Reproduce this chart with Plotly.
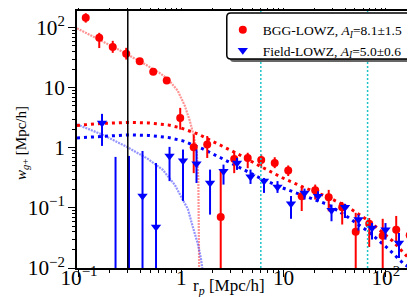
import plotly.graph_objects as go

# ---------------- data ----------------
rp_bgg = [0.1164, 0.1578, 0.2138, 0.2897, 0.3926, 0.5321, 0.7211, 0.977, 1.324, 1.795,
          2.432, 3.296, 4.467, 6.053, 8.204, 11.12, 15.07, 20.42, 27.67, 37.50,
          50.82, 68.87, 93.33, 126.5, 171.4]
w_bgg = [147, 68, 48, 36.9, 27.8, 18.5, 13.2, 3.16, 1.03, 1.135,
         0.071, 0.656, 0.68, 0.63, 0.56, 0.42, 0.157, 0.197, 0.151, 0.103,
         0.040, 0.0548, 0.0345, 0.0435, 0.035]
w_bgg_hi = [175, 82.5, 60.7, 46.4, 31.3, 20.7, 14.85, 4.64, 1.67, 1.58,
            0.447, 0.89, 0.83, 0.78, 0.70, 0.51, 0.23, 0.245, 0.20, 0.126,
            0.083, 0.068, 0.066, 0.0736, 0.053]
w_bgg_lo = [122, 46, 38.3, 29.6, 24.8, 16.5, 11.8, 2.02, 0.38, 0.68,
            0.001, 0.38, 0.46, 0.46, 0.46, 0.34, 0.089, 0.138, 0.088, 0.053,
            0.001, 0.0224, 0.001, 0.026, 0.0113]

rp_field = [0.168, 0.2277, 0.3085, 0.4181, 0.5667, 0.768, 1.0405, 1.410, 1.912, 2.590,
            3.510, 4.757, 6.446, 8.737, 11.84, 16.05, 21.75, 29.47, 39.94, 54.12,
            73.35, 99.40, 134.7, 182.5]
w_field = [2.61, 0.002, 0.002, 0.158, 0.048, 0.735, 0.61, 0.547, 0.261, 0.408,
           0.562, 0.33, 0.28, 0.224, 0.117, 0.178, 0.156, 0.0915, 0.103, 0.064,
           0.0464, 0.0435, 0.026, 0.0151]
w_field_hi = [3.69, 0.708, 0.735, 0.89, 0.56, 1.04, 0.94, 0.94, 0.435, 0.527,
              0.68, 0.435, 0.316, 0.28, 0.158, 0.21, 0.19, 0.114, 0.117, 0.0774,
              0.056, 0.056, 0.0383, 0.023]
w_field_lo = [1.08, 0.001, 0.001, 0.001, 0.001, 0.28, 0.131, 0.261, 0.0775, 0.245,
              0.43, 0.251, 0.178, 0.178, 0.066, 0.138, 0.129, 0.06, 0.068, 0.042,
              0.0297, 0.0297, 0.0147, 0.0107]

# large-scale model curves (thick dotted)
rp_model_bgg = [0.0956, 0.1715, 0.301, 0.472, 0.740, 0.991, 1.452, 1.82, 2.55, 3.57,
                5.60, 9.82, 15.4, 27.0, 42.4, 66.4, 116.5, 163.3, 195.5]
w_model_bgg = [2.37, 2.56, 2.66, 2.61, 2.42, 2.15, 1.71, 1.41, 1.04, 0.794,
               0.521, 0.316, 0.224, 0.1526, 0.104, 0.063, 0.0282, 0.01525, 0.01]
rp_model_field = [0.0956, 0.1919, 0.301, 0.472, 0.740, 1.037, 1.625, 2.55, 4.47, 6.26,
                  9.82, 15.4, 27.0, 42.4, 66.4, 104, 152.6, 174.6]
w_model_field = [1.468, 1.585, 1.647, 1.616, 1.496, 1.308, 0.962, 0.656, 0.398, 0.2985,
                 0.2154, 0.1648, 0.1144, 0.0708, 0.0414, 0.0215, 0.01135, 0.01]

# small-scale model curves (thin, pale)
rp_small_bgg = [0.0956, 0.1533, 0.2404, 0.403, 0.591, 0.740, 0.926, 1.084, 1.213, 1.327,
                1.420, 1.469, 1.486, 1.496]
w_small_bgg = [98.1, 65.6, 43.8, 27.1, 18.5, 14.1, 8.91, 5.01, 2.82, 1.585,
               0.825, 0.316, 0.1, 0.01]
rp_small_field = [0.0956, 0.1715, 0.301, 0.472, 0.661, 0.866, 1.037, 1.160, 1.298, 1.452,
                  1.554, 1.607]
w_small_field = [2.465, 1.647, 1.019, 0.656, 0.430, 0.2417, 0.136, 0.0962, 0.0483, 0.0251,
                 0.0147, 0.01]

vline_solid = [0.3]
vlines_cyan = [6.0, 66.4]

label_bgg = "BGG-LOWZ, <i>A</i><sub><i>I</i></sub>=8.1\u00b11.5"
label_field = "Field-LOWZ, <i>A</i><sub><i>I</i></sub>=5.0\u00b10.6"

SERIF = "Liberation Serif, Times New Roman, serif"

# plot-area geometry in pixels
W, H = 415, 297
L, R, T, B = 69, 3.5, 3, 37
PW, PH = W - L - R, H - T - B


def px_x(p):
    return (p - L) / PW


def px_y(p):
    return (T + PH - p) / PH


fig = go.Figure()

# small-scale model curves
fig.add_trace(go.Scatter(x=rp_small_bgg, y=w_small_bgg, mode="lines", showlegend=False,
                         line=dict(color="rgba(255,60,60,0.55)", width=2.2, dash="2px,1px")))
fig.add_trace(go.Scatter(x=rp_small_field, y=w_small_field, mode="lines", showlegend=False,
                         line=dict(color="rgba(60,60,255,0.55)", width=2.2, dash="2px,1px")))
# large-scale model curves
fig.add_trace(go.Scatter(x=rp_model_bgg, y=w_model_bgg, mode="lines", showlegend=False,
                         line=dict(color="#ff0000", width=3, dash="3px,4px")))
fig.add_trace(go.Scatter(x=rp_model_field, y=w_model_field, mode="lines", showlegend=False,
                         line=dict(color="#0000ff", width=3, dash="3px,4px")))

# data
fig.add_trace(go.Scatter(
    x=rp_bgg, y=w_bgg, mode="markers", name=label_bgg,
    marker=dict(symbol="circle", size=8, color="#ff0000"),
    error_y=dict(type="data", symmetric=False,
                 array=[h - v for h, v in zip(w_bgg_hi, w_bgg)],
                 arrayminus=[v - l for v, l in zip(w_bgg, w_bgg_lo)],
                 color="#ff0000", thickness=2, width=0)))
fig.add_trace(go.Scatter(
    x=rp_field, y=w_field, mode="markers", name=label_field,
    marker=dict(symbol="triangle-down", size=9, color="#0000ff"),
    error_y=dict(type="data", symmetric=False,
                 array=[h - v for h, v in zip(w_field_hi, w_field)],
                 arrayminus=[v - l for v, l in zip(w_field, w_field_lo)],
                 color="#0000ff", thickness=2, width=0)))

for xv in vline_solid:
    fig.add_vline(x=xv, line=dict(color="black", width=1.5))
for xv in vlines_cyan:
    fig.add_vline(x=xv, line=dict(color="#1cc4c8", width=1.5, dash="2px,2px"))


# legend frame (rounded box with drop shadow), drawn under the legend entries
def rounded_rect(x0, y0, x1, y1, r):
    X0, X1 = px_x(x0), px_x(x1)
    Y0, Y1 = px_y(y0), px_y(y1)
    rx, ry = r / PW, r / PH
    return (f"M {X0+rx},{Y0} L {X1-rx},{Y0} Q {X1},{Y0} {X1},{Y0-ry} "
            f"L {X1},{Y1+ry} Q {X1},{Y1} {X1-rx},{Y1} L {X0+rx},{Y1} "
            f"Q {X0},{Y1} {X0},{Y1+ry} L {X0},{Y0-ry} Q {X0},{Y0} {X0+rx},{Y0} Z")


box = (219, 5, 410, 51)
fig.add_shape(type="path", xref="paper", yref="paper", layer="above",
              path=rounded_rect(box[0] + 3, box[1] + 3, box[2] + 3, box[3] + 3, 4),
              fillcolor="rgba(0,0,0,0.6)", line=dict(width=0))
fig.add_shape(type="path", xref="paper", yref="paper", layer="above",
              path=rounded_rect(*box, 4),
              fillcolor="white", line=dict(color="black", width=1.5))

axis_common = dict(
    type="log", showgrid=False, zeroline=False, automargin=False,
    showline=True, linecolor="black", linewidth=1.5, mirror="allticks",
    ticks="outside", ticklen=7, tickwidth=1.2, tickcolor="black",
    dtick=1, exponentformat="power",
    tickfont=dict(family=SERIF, size=17, color="black"),
    minor=dict(ticks="outside", ticklen=3.5, tickwidth=1, tickcolor="black", dtick="D1"),
)

fig.update_xaxes(range=[-1.0195, 2.325], ticklabelstandoff=-16, **axis_common)
fig.update_yaxes(range=[-2, 2.28], **axis_common)

fig.add_annotation(text="r<sub><i>p</i></sub> [Mpc/h]", xref="paper", yref="paper",
                   x=px_x(221), y=px_y(279), xanchor="center", yanchor="middle",
                   showarrow=False, font=dict(family=SERIF, size=17, color="black"))
fig.add_annotation(text="<i>w</i><sub><i>g</i>+</sub> [Mpc/h]", xref="paper", yref="paper",
                   x=px_x(14), y=px_y(135), xanchor="center", yanchor="middle",
                   showarrow=False, textangle=-90,
                   font=dict(family=SERIF, size=15, color="black"))

fig.update_layout(
    width=W, height=H,
    margin=dict(l=L, r=R, t=T, b=B, autoexpand=False),
    paper_bgcolor="white", plot_bgcolor="white",
    showlegend=True,
    legend=dict(x=px_x(215), y=px_y(6.5), xanchor="left", yanchor="top",
                bgcolor="rgba(0,0,0,0)", borderwidth=0,
                font=dict(family=SERIF, size=13.5, color="black"),
                tracegroupgap=0, itemwidth=30),
)

fig.write_html("out.html")
